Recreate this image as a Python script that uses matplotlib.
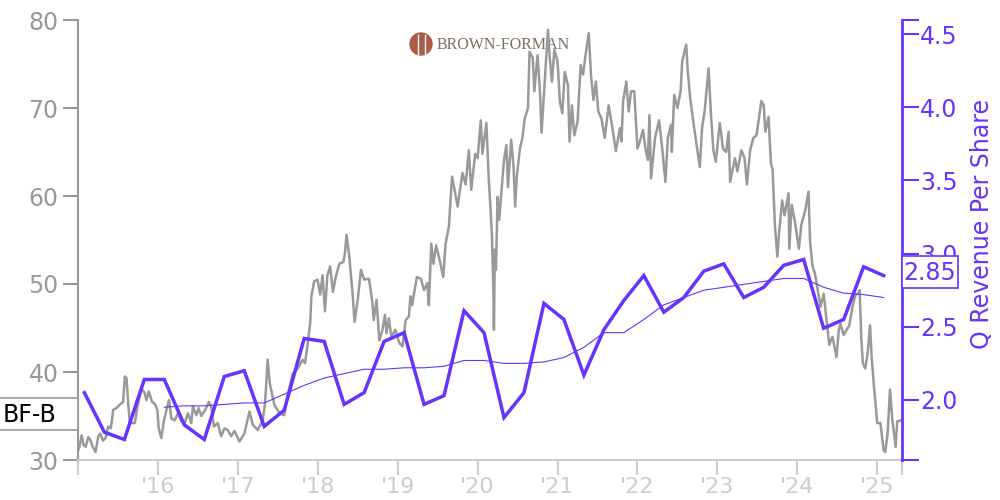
import matplotlib
matplotlib.use("Agg")
import numpy as np
import matplotlib.pyplot as plt
from matplotlib.patches import Rectangle, Ellipse
from matplotlib.lines import Line2D

# stock price (years since 2015, price)
price_years = [
    0.0, 0.021, 0.046, 0.071, 0.096, 0.129, 0.154, 0.179, 0.22, 0.254, 0.278, 0.312, 0.345, 0.378, 0.411, 0.441,
    0.482, 0.524, 0.565, 0.586, 0.607, 0.628, 0.648, 0.677, 0.711, 0.744, 0.794, 0.835, 0.856, 0.885, 0.927, 0.96,
    0.993, 1.01, 1.043, 1.076, 1.118, 1.139, 1.168, 1.209, 1.251, 1.293, 1.334, 1.376, 1.417, 1.438, 1.48, 1.509,
    1.542, 1.592, 1.638, 1.667, 1.7, 1.75, 1.79, 1.833, 1.874, 1.916, 1.958, 2.02, 2.082, 2.145, 2.187, 2.25,
    2.31, 2.34, 2.373, 2.4, 2.456, 2.52, 2.58, 2.62, 2.685, 2.75, 2.81, 2.84, 2.87, 2.905, 2.92, 2.955,
    2.997, 3.03, 3.06, 3.09, 3.12, 3.155, 3.19, 3.225, 3.27, 3.32, 3.34, 3.36, 3.395, 3.42, 3.44, 3.46,
    3.5, 3.54, 3.58, 3.64, 3.68, 3.7, 3.735, 3.77, 3.81, 3.84, 3.86, 3.89, 3.92, 3.97, 4.02, 4.06,
    4.1, 4.14, 4.16, 4.18, 4.24, 4.29, 4.33, 4.37, 4.39, 4.42, 4.447, 4.48, 4.52, 4.57, 4.6, 4.64,
    4.68, 4.72, 4.75, 4.81, 4.85, 4.89, 4.92, 4.97, 5.0, 5.04, 5.06, 5.11, 5.14, 5.16, 5.18, 5.2,
    5.204, 5.216, 5.23, 5.25, 5.27, 5.3, 5.33, 5.36, 5.38, 5.42, 5.45, 5.47, 5.49, 5.53, 5.56, 5.59,
    5.63, 5.65, 5.69, 5.71, 5.75, 5.78, 5.8, 5.84, 5.88, 5.9, 5.93, 5.96, 6.0, 6.03, 6.06, 6.09,
    6.13, 6.15, 6.18, 6.21, 6.25, 6.29, 6.32, 6.35, 6.39, 6.42, 6.45, 6.48, 6.51, 6.55, 6.59, 6.64,
    6.68, 6.73, 6.78, 6.8, 6.82, 6.86, 6.89, 6.92, 6.96, 7.0, 7.03, 7.07, 7.1, 7.13, 7.15, 7.17,
    7.22, 7.27, 7.31, 7.35, 7.38, 7.42, 7.43, 7.46, 7.5, 7.54, 7.56, 7.61, 7.63, 7.66, 7.71, 7.75,
    7.78, 7.81, 7.84, 7.89, 7.92, 7.95, 7.98, 8.03, 8.07, 8.11, 8.14, 8.16, 8.22, 8.25, 8.3, 8.34,
    8.37, 8.41, 8.45, 8.49, 8.55, 8.58, 8.6, 8.64, 8.67, 8.69, 8.72, 8.75, 8.77, 8.81, 8.84, 8.89,
    8.9, 8.93, 8.97, 9.02, 9.05, 9.1, 9.14, 9.16, 9.19, 9.22, 9.26, 9.29, 9.33, 9.38, 9.4, 9.44,
    9.49, 9.52, 9.54, 9.58, 9.65, 9.69, 9.73, 9.76, 9.78, 9.8, 9.82, 9.85, 9.88, 9.91, 9.93, 9.96,
    10.0, 10.04, 10.08, 10.1, 10.13, 10.16, 10.19, 10.23, 10.25, 10.3,
]
price_values = [
    31.1, 31.6, 32.8, 31.7, 31.5, 32.6, 32.3, 31.6, 30.9, 32.7, 33.0, 32.2, 32.5, 33.8, 33.6, 35.7,
    35.9, 36.3, 36.6, 39.5, 39.3, 36.4, 34.2, 34.2, 34.2, 36.1, 38.1, 37.6, 36.8, 37.8, 36.6, 36.4,
    35.7, 33.6, 32.5, 34.5, 36.1, 36.8, 34.7, 34.5, 35.3, 34.4, 34.2, 35.3, 34.2, 36.1, 35.1, 35.9,
    35.0, 35.7, 36.6, 36.1, 33.8, 34.2, 32.7, 33.6, 33.4, 32.7, 33.3, 32.1, 33.0, 35.5, 34.0, 33.4,
    34.5, 36.4, 41.4, 38.7, 36.3, 35.3, 35.1, 37.2, 39.8, 40.4, 41.4, 41.0, 42.9, 45.5, 48.6, 50.3,
    50.5, 48.8, 51.0, 46.9, 51.0, 52.0, 49.1, 50.8, 52.3, 52.5, 53.5, 55.6, 53.1, 50.5, 48.4, 45.7,
    48.2, 51.6, 50.5, 50.6, 48.2, 45.9, 48.2, 43.6, 44.8, 46.5, 44.4, 46.1, 44.0, 44.8, 43.3, 42.9,
    45.9, 46.3, 48.6, 47.6, 50.8, 50.6, 49.3, 50.1, 47.6, 54.6, 52.3, 54.4, 52.9, 50.8, 54.6, 56.5,
    62.2, 60.3, 58.8, 62.6, 61.3, 65.2, 60.7, 64.8, 64.3, 68.6, 64.8, 68.3, 61.8, 58.8, 55.4, 48.0,
    44.8, 53.9, 51.6, 59.9, 57.3, 60.7, 64.1, 65.8, 61.0, 66.4, 63.3, 58.8, 62.2, 65.4, 66.6, 68.8,
    70.0, 76.4, 75.7, 71.9, 76.0, 71.9, 67.2, 73.0, 78.9, 76.0, 73.0, 76.6, 75.3, 70.7, 69.4, 74.1,
    72.6, 66.2, 70.3, 66.9, 68.4, 74.9, 73.8, 76.0, 78.5, 73.6, 70.9, 73.0, 69.6, 68.8, 66.6, 70.3,
    68.1, 65.1, 67.7, 66.2, 70.7, 73.0, 69.6, 71.9, 71.9, 65.4, 66.2, 67.5, 65.4, 64.1, 69.2, 62.0,
    66.6, 68.6, 65.4, 61.6, 66.6, 68.1, 65.0, 71.5, 70.0, 71.9, 75.3, 77.2, 74.1, 71.1, 67.7, 65.2,
    63.3, 67.9, 69.6, 74.5, 69.2, 65.2, 63.9, 68.3, 65.4, 65.0, 67.3, 61.6, 64.3, 62.8, 65.2, 64.3,
    61.3, 65.2, 66.6, 66.9, 70.8, 70.3, 67.3, 69.0, 63.7, 63.1, 56.7, 53.1, 55.6, 59.5, 57.8, 60.3,
    54.0, 59.0, 57.1, 54.0, 56.7, 58.4, 60.5, 54.8, 52.0, 51.2, 49.1, 47.4, 48.9, 44.8, 43.1, 44.0,
    41.7, 44.8, 45.5, 44.2, 45.3, 47.4, 48.8, 48.9, 49.3, 44.0, 41.0, 40.4, 42.1, 45.3, 41.7, 38.3,
    34.2, 34.2, 31.1, 30.9, 33.0, 38.0, 34.5, 31.5, 34.4, 34.5,
]

# quarterly revenue per share and its trailing average
q_revenue = [
    2.05, 1.78, 1.73, 2.14, 2.14, 1.83, 1.73, 2.16, 2.20, 1.82, 1.93, 2.42, 2.40, 1.97,
    2.05, 2.40, 2.46, 1.97, 2.03, 2.61, 2.46, 1.88, 2.05, 2.66, 2.55, 2.17, 2.48, 2.68,
    2.85, 2.60, 2.70, 2.88, 2.93, 2.70, 2.77, 2.92, 2.96, 2.49, 2.55, 2.91, 2.85,
]
q_average = [
    1.95, 1.96, 1.96, 1.97, 1.98, 1.98, 2.04, 2.10, 2.15, 2.18, 2.21, 2.21, 2.22,
    2.22, 2.23, 2.27, 2.27, 2.25, 2.25, 2.26, 2.29, 2.36, 2.46, 2.46, 2.55, 2.65,
    2.70, 2.75, 2.77, 2.79, 2.81, 2.83, 2.83, 2.77, 2.73, 2.72, 2.70,
]
year_ticks = [2016, 2017, 2018, 2019, 2020, 2021, 2022, 2023, 2024, 2025]
year_labels = ["'16", "'17", "'18", "'19", "'20", "'21", "'22", "'23", "'24", "'25"]
left_ticks = [30, 40, 50, 60, 70, 80]
right_ticks = [2.0, 2.5, 3.0, 3.5, 4.0, 4.5]

GREY = "#999999"
LIGHT = "#cccccc"
PURPLE = "#6633ff"
X_MIN, X_MAX = 2015.0, 2025.31
Y2_MIN, Y2_MAX = 1.59, 4.596

fig = plt.figure(figsize=(10, 5), dpi=100)
ax = fig.add_axes([0.078, 0.08, 0.824, 0.88])
ax.patch.set_alpha(0)
ax2 = ax.twinx()

dates = 2015 + np.array(price_years)
ax.plot(dates, price_values, color=GREY, lw=1.8, solid_joinstyle="round")
ax.set_xlim(X_MIN, X_MAX)
ax.set_ylim(30, 80)
ax.set_yticks(left_ticks)
ax.tick_params(axis="y", colors=GREY, labelsize=17, length=11, width=1.5, pad=3)
ax.set_xticks([X_MIN] + year_ticks + [X_MAX])
ax.set_xticklabels([""] + year_labels + [""])
ax.tick_params(axis="x", colors=LIGHT, labelsize=16, length=11, width=1.5, pad=1)

q_dates = 2015.08 + 0.25 * np.arange(len(q_revenue))
ax2.plot(q_dates, q_revenue, color=PURPLE, lw=2.5, solid_joinstyle="miter")
ax2.plot(q_dates[-len(q_average):], q_average, color=PURPLE, lw=0.8)
ax2.set_ylim(Y2_MIN, Y2_MAX)
ax2.set_yticks([Y2_MIN] + right_ticks + [Y2_MAX])
ax2.set_yticklabels([""] + [f"{v:.1f}" for v in right_ticks] + [""])
ax2.tick_params(axis="y", colors=PURPLE, labelsize=17, length=12, width=1.5, pad=1)

for a in (ax, ax2):
    a.spines["top"].set_visible(False)
ax.spines["right"].set_visible(False)
ax.spines["left"].set_color(GREY)
ax.spines["left"].set_linewidth(1.5)
ax.spines["bottom"].set_color(LIGHT)
ax.spines["bottom"].set_linewidth(1.5)
ax2.spines["left"].set_visible(False)
ax2.spines["bottom"].set_visible(False)
ax2.spines["right"].set_color(PURPLE)
ax2.spines["right"].set_linewidth(2)

fig.text(0.982, 0.552, "Q Revenue Per Share", color=PURPLE, fontsize=17, rotation=90, va="center", ha="center")

# logo sits under the axes, label boxes over them
logo_col = "#a85f45"
fig.add_artist(Ellipse((0.421, 0.912), 0.022, 0.044, color=logo_col, zorder=-2))
for dx in (-0.0035, 0.0035):
    fig.add_artist(Line2D([0.421 + dx, 0.421 + dx], [0.892, 0.93], color="white", lw=1.0, zorder=-1))
fig.text(0.437, 0.910, "BROWN-FORMAN", family="Liberation Serif", fontsize=11.5, color="#7d6f60",
         va="center", ha="left", zorder=-1)

fig.add_artist(Rectangle((-0.002, 0.14), 0.08, 0.064, facecolor="white", edgecolor=GREY, lw=1.2, zorder=5))
fig.text(0.003, 0.171, "BF-B", color="black", fontsize=17, va="center", ha="left", zorder=6)
fig.add_artist(Rectangle((0.902, 0.424), 0.056, 0.064, facecolor="white", edgecolor=PURPLE, lw=1.2, zorder=5))
fig.text(0.930, 0.455, "2.85", color=PURPLE, fontsize=17, va="center", ha="center", zorder=6)

fig.savefig("out.png", dpi=100)
